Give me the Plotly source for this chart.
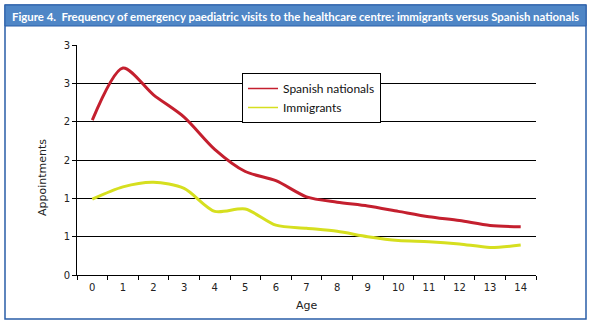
import plotly.graph_objects as go

ages = [str(a) for a in range(15)]
spanish = [2.02, 2.70, 2.35, 2.06, 1.64, 1.35, 1.23, 1.02, 0.95, 0.90, 0.83, 0.76, 0.71, 0.645, 0.63]
immigrants = [0.99, 1.15, 1.21, 1.13, 0.83, 0.86, 0.65, 0.61, 0.57, 0.50, 0.45, 0.435, 0.405, 0.36, 0.39]
y_tickvals = [0, 0.5, 1, 1.5, 2, 2.5, 3]
y_ticktext = ["0", "1", "1", "2", "2", "3", "3"]

RED = "#c41f2e"
YEL = "#d6df1f"
TICKFONT = dict(family="DejaVu Sans", size=10, color="#222")
TITLEFONT = dict(family="DejaVu Sans", size=11, color="#222")

W, H = 594, 326
L, R, T, B = 77, 58, 45, 51
pw, ph = W - L - R, H - T - B

def px(x):
    return (x - L) / pw

def py(y):
    return (H - B - y) / ph

fig = go.Figure()
fig.add_trace(go.Scatter(x=ages, y=spanish, mode="lines", showlegend=False,
                         line=dict(color=RED, width=3, shape="spline", smoothing=0.8)))
fig.add_trace(go.Scatter(x=ages, y=immigrants, mode="lines", showlegend=False,
                         line=dict(color=YEL, width=3, shape="spline", smoothing=0.8)))
# legend entries
fig.add_trace(go.Scatter(x=[None], y=[None], mode="lines", name="Spanish nationals",
                         line=dict(color=RED, width=1.5)))
fig.add_trace(go.Scatter(x=[None], y=[None], mode="lines", name="Immigrants",
                         line=dict(color=YEL, width=1.5)))

fig.update_layout(
    width=W, height=H,
    margin=dict(l=L, r=R, t=T, b=B),
    paper_bgcolor="white", plot_bgcolor="white",
    legend=dict(x=px(242), y=py(73), xanchor="left", yanchor="top",
                bordercolor="black", borderwidth=1, bgcolor="white",
                font=dict(family="Lato", size=12, color="#111"),
                tracegroupgap=0, itemwidth=30),
    xaxis=dict(type="category", tickson="boundaries", ticks="outside", ticklen=4,
               tickcolor="black", showline=True, linecolor="black", linewidth=1,
               showgrid=False, tickfont=TICKFONT, range=[-0.5, 14.5], zeroline=False,
               ticklabelstandoff=3),
    yaxis=dict(range=[0, 3], tickvals=y_tickvals, ticktext=y_ticktext,
               ticks="outside", ticklen=4, tickcolor="black",
               showline=True, linecolor="black", linewidth=1,
               showgrid=True, gridcolor="black", gridwidth=1,
               tickfont=TICKFONT, zeroline=False),
    showlegend=True,
)

# frame and title bar
fig.add_shape(type="rect", xref="paper", yref="paper",
              x0=px(5), x1=px(586), y0=py(319), y1=py(5),
              line=dict(color="#2a5ea8", width=1.5), fillcolor="rgba(0,0,0,0)", layer="below")
fig.add_shape(type="rect", xref="paper", yref="paper",
              x0=px(5), x1=px(586), y0=py(26), y1=py(5),
              line=dict(color="#2a5ea8", width=1), fillcolor="#4f86c6", layer="below")

fig.add_annotation(xref="paper", yref="paper", x=px(10), y=py(16),
                   xanchor="left", yanchor="middle", showarrow=False,
                   text="<b>Figure 4.  Frequency of emergency paediatric visits to the healthcare centre: immigrants versus Spanish nationals</b>",
                   font=dict(family="Lato", size=11.4, color="white"))
fig.add_annotation(xref="paper", yref="paper", x=px(42), y=py(178),
                   xanchor="center", yanchor="middle", showarrow=False, textangle=-90,
                   text="Appointments", font=TITLEFONT)
fig.add_annotation(xref="paper", yref="paper", x=px(307), y=py(305),
                   xanchor="center", yanchor="middle", showarrow=False,
                   text="Age", font=TITLEFONT)

fig.write_html("out.html")
